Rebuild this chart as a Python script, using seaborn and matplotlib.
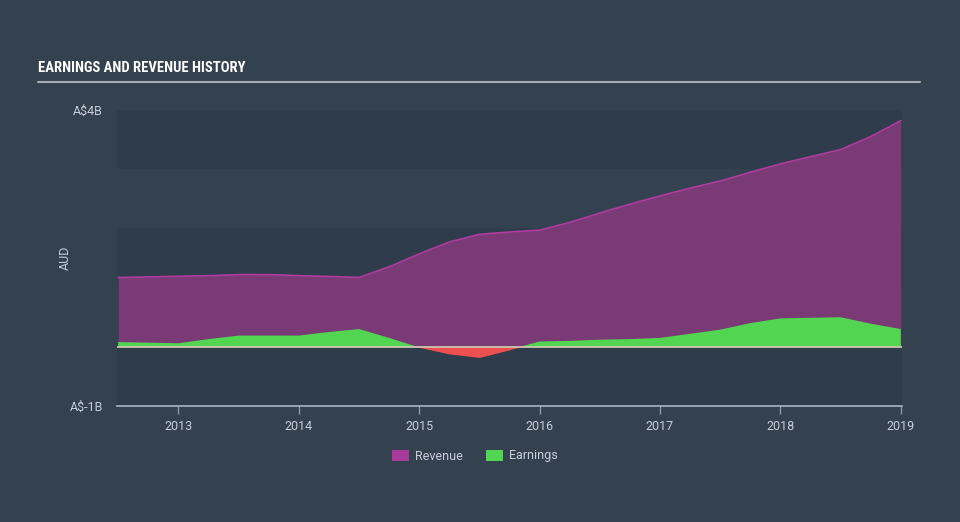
import matplotlib
matplotlib.use("Agg")
import matplotlib.pyplot as plt
import seaborn as sns
import numpy as np
import pandas as pd
from matplotlib.patches import Patch

# ---- data (AUD billions) ----
dates = [2012.5, 2012.75, 2013.0, 2013.25, 2013.5, 2013.75, 2014.0, 2014.25, 2014.5,
         2014.75, 2015.0, 2015.25, 2015.5, 2015.75, 2016.0, 2016.25, 2016.5, 2016.75,
         2017.0, 2017.25, 2017.5, 2017.75, 2018.0, 2018.25, 2018.5, 2018.75, 2019.0]
revenue = [1.17, 1.18, 1.19, 1.20, 1.22, 1.22, 1.20, 1.19, 1.17,
           1.35, 1.57, 1.77, 1.90, 1.94, 1.97, 2.10, 2.26, 2.41,
           2.55, 2.68, 2.80, 2.95, 3.09, 3.21, 3.33, 3.55, 3.82]
earnings = [0.08, 0.07, 0.06, 0.13, 0.19, 0.19, 0.19, 0.25, 0.30,
            0.15, -0.01, -0.12, -0.18, -0.05, 0.09, 0.10, 0.12, 0.13,
            0.15, 0.22, 0.29, 0.40, 0.48, 0.49, 0.50, 0.39, 0.30]
year_ticks = [2013, 2014, 2015, 2016, 2017, 2018, 2019]
y_ticks = [4, -1]
y_tick_labels = ["A$4B", "A$-1B"]

df = pd.DataFrame({"date": dates, "Revenue": revenue, "Earnings": earnings})

BG = "#34414f"
DARK = "#2f3c4b"
LIGHT = "#334150"
REV_FILL = "#7a3a76"
REV_EDGE = "#b23ba2"
GREEN = "#52d550"
RED = "#ee5050"
TXT = "#c6ced8"

sns.set_theme(style="dark")
plt.rcParams['font.family'] = ['Roboto', 'DejaVu Sans']

fig = plt.figure(figsize=(9.6, 5.22), dpi=100, facecolor=BG)
ax = fig.add_axes([117/960, 1-406/522, (902-117)/960, (406-110)/522])
ax.set_facecolor(DARK)

# alternating bands
for i, (lo, hi) in enumerate([(3, 4), (2, 3), (1, 2), (0, 1), (-1, 0)]):
    ax.axhspan(lo, hi, color=DARK if i % 2 == 0 else LIGHT, lw=0, zorder=0)

x = df["date"].to_numpy()
rev = df["Revenue"].to_numpy()
ear = df["Earnings"].to_numpy()

xf = np.linspace(x[0], x[-1], 800)
revf = np.interp(xf, x, rev)
earf = np.interp(xf, x, ear)

ax.fill_between(xf, 0, revf, color=REV_FILL, lw=0, zorder=2)
sns.lineplot(x=xf, y=revf, ax=ax, color=REV_EDGE, lw=1.2, zorder=3)
ax.fill_between(xf, 0, earf, where=earf >= 0, color=GREEN, lw=0, zorder=4, interpolate=True)
ax.fill_between(xf, 0, earf, where=earf <= 0, color=RED, lw=0, zorder=4, interpolate=True)
ax.axhline(0, color="#d4cfb2", lw=1.2, zorder=5)

ax.set_xlim(2012.49, 2019.01)
ax.set_ylim(-1, 4)
ax.set_xticks(year_ticks)
ax.set_xticklabels([str(y) for y in year_ticks])
ax.set_yticks(y_ticks)
ax.set_yticklabels(y_tick_labels)
ax.tick_params(axis="x", colors=TXT, labelsize=9, length=6, width=1, direction="out",
               color="#8c9aaa", pad=4, bottom=True)
ax.tick_params(axis="y", colors=TXT, labelsize=9, length=0, pad=10)
ax.set_xlabel("")
ax.set_ylabel("AUD", color=TXT, fontsize=9)
ax.yaxis.set_label_coords((72-117)/785, 0.5)
for s in ["top", "right", "left"]:
    ax.spines[s].set_visible(False)
ax.spines["bottom"].set_color("#a9b6c6")
ax.spines["bottom"].set_linewidth(1.2)
ax.grid(False)

# title and underline
fig.text(38/960, 1-68/522, "EARNINGS AND REVENUE HISTORY", color="white",
         fontsize=10.5, fontweight="bold", va="center", ha="left",
         family=['Roboto Condensed', 'Liberation Sans Narrow', 'Roboto', 'DejaVu Sans'])
fig.add_artist(plt.Line2D([38/960, 920/960], [1-82/522, 1-82/522], color="#a9adb3", lw=1.5))

handles = [Patch(facecolor="#a83a9a", edgecolor="none", label="Revenue"),
           Patch(facecolor=GREEN, edgecolor="none", label="Earnings")]
leg = fig.legend(handles=handles, loc="center", bbox_to_anchor=(475/960, 1-456/522), ncol=2,
                 frameon=False, fontsize=9, handlelength=1.3, handleheight=1.0,
                 columnspacing=1.9, handletextpad=0.5)
for t in leg.get_texts():
    t.set_color(TXT)

fig.savefig("out.png", dpi=100, facecolor=BG)
